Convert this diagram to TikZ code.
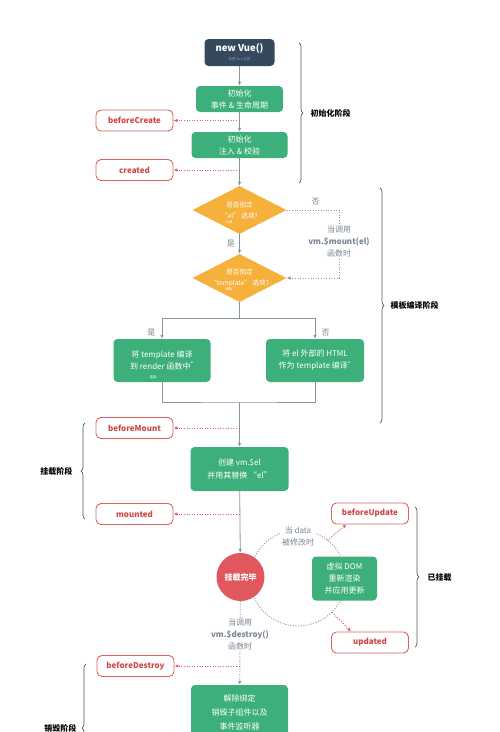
\documentclass[tikz,border=0pt]{standalone}
\usepackage{fontspec}
\setmainfont{Noto Sans CJK SC}
\usetikzlibrary{positioning, calc, shapes.geometric, arrows.meta, decorations.pathreplacing}
\usepackage{xcolor}
\definecolor{vuedark}{HTML}{35495E}
\definecolor{vuegreen}{HTML}{3DAF7B}
\definecolor{askorange}{HTML}{F6B03C}
\definecolor{hookred}{HTML}{DC6262}
\definecolor{hooktext}{HTML}{CF4646}
\definecolor{circred}{HTML}{E0585D}
\definecolor{linegray}{HTML}{8595A8}
\definecolor{notegray}{HTML}{7A8696}
\definecolor{subgray}{HTML}{8C9BAC}
\definecolor{bracegray}{HTML}{555555}
\tikzstyle{Dark} = [fill=vuedark, text=white, rounded corners=4pt, align=center,
font=\bfseries\fontsize{9.5}{10}\selectfont, minimum width=70pt, minimum height=27pt, inner sep=1pt]
\tikzstyle{Green} = [fill=vuegreen, text=white, rounded corners=4pt, align=center,
font=\fontsize{8}{12}\selectfont, minimum height=26pt, inner sep=1pt]
\tikzstyle{Hook} = [draw=hookred, line width=0.9pt, rounded corners=5pt, text=hooktext,
font=\bfseries\fontsize{8}{10}\selectfont, minimum width=77pt, minimum height=21pt]
\tikzstyle{Ask} = [diamond, fill=askorange, inner sep=0pt, minimum width=94pt, minimum height=48pt]
\tikzstyle{AskText} = [text=white, align=center, inner sep=0pt, font=\fontsize{6.6}{11}\selectfont]
\tikzstyle{Line} = [draw=linegray, line width=0.8pt]
\tikzstyle{Arrow} = [Line, -{Latex[length=4pt,width=3.5pt]}]
\tikzstyle{Loop} = [draw=linegray, line width=0.9pt, dash pattern=on 1pt off 1.6pt]
\tikzstyle{HookArrow} = [draw=hookred, line width=1pt, dash pattern=on 1pt off 1.6pt,
-{Latex[length=4pt,width=3.5pt]}]
\tikzstyle{Note} = [text=notegray, align=center, font=\fontsize{8}{12}\selectfont]
\tikzstyle{Tiny} = [inner sep=0pt, font=\fontsize{3.5}{4}\selectfont]
\tikzstyle{Phase} = [text=black, font=\bfseries\fontsize{8}{10}\selectfont]
\tikzstyle{Brace} = [draw=bracegray, line width=0.7pt, decorate, decoration={brace, amplitude=4pt}]

\begin{document}
\begin{tikzpicture}[x=1pt, y=-1pt]
    \useasboundingbox (0,0) rectangle (500,732);
    \clip (0,0) rectangle (500,732);

    \coordinate (17) at (298,578);
    \draw[Loop] (17) circle (48pt);

    \node[Dark] (1) at (239.5,52.5) {new Vue()\\[-1pt]{\mdseries\fontsize{3.5}{4}\selectfont\color{subgray}创建 Vue 实例}};
    \node[Green, minimum width=87pt] (2) at (239.5,99) {初始化\\事件 \& 生命周期};
    \node[Hook] (3) at (134.5,120.5) {beforeCreate};
    \node[Green, minimum width=96pt] (4) at (239.5,145) {初始化\\注入 \& 校验};
    \node[Hook] (5) at (134.5,170) {created};
    \node[Ask, label={[AskText]center:{是否指定\\“el” 选项?}}] (6) at (239.5,210) {};
    \node[Tiny, text=white] (6t) at (229,222.5) {元素};
    \node[Ask, label={[AskText]center:{是否指定\\“template” 选项?}}] (7) at (239.5,278) {};
    \node[Tiny, text=white] (7t) at (229,289.5) {模板};
    \coordinate (9) at (239.5,318);
    \node[Green, minimum width=97pt, minimum height=43pt] (10) at (162,360.5) {将 template 编译\\到 render 函数中\textsuperscript{*}};
    \node[Tiny, text=white] (10t) at (153,377) {渲染};
    \node[Green, minimum width=98pt, minimum height=43pt] (11) at (315,360.5) {将 el 外部的 HTML\\作为 template 编译\textsuperscript{*}};
    \coordinate (12) at (239.5,402);
    \node[Hook] (13) at (134.5,428) {beforeMount};
    \node[Green, minimum width=98pt, minimum height=44pt, font=\fontsize{8}{13}\selectfont] (14) at (239.5,469) {创建 vm.\$el\\并用其替换 “el”};
    \node[Hook] (15) at (134.5,514) {mounted};
    \node[circle, fill=circred, text=white, minimum size=48pt, inner sep=0pt,
    font=\bfseries\fontsize{8}{10}\selectfont] (16) at (240.5,577) {挂载完毕};
    \node[Green, minimum width=65pt, minimum height=44pt] (19) at (344.5,578.5) {虚拟 DOM\\重新渲染\\并应用更新};
    \node[Hook] (20) at (370,513.5) {beforeUpdate};
    \node[Hook] (21) at (370,642.5) {updated};
    \node[Hook] (23) at (135.5,666) {beforeDestroy};
    \node[Green, minimum width=97pt, minimum height=54pt, font=\fontsize{8}{14}\selectfont] (24) at (239.5,712) {解除绑定\\销毁子组件以及\\事件监听器};

    \coordinate (3a) at (239.5,120.5);
    \coordinate (5a) at (239.5,170);
    \coordinate (13a) at (239.5,428);
    \coordinate (15a) at (239.5,514);
    \coordinate (23a) at (239.5,666);
    \coordinate (20a) at ($(17)+(52:48pt)$);
    \coordinate (21a) at ($(17)+(-45:48pt)$);

    \draw[Arrow] (1) -- (2);
    \draw[Arrow] (2) -- (4);
    \draw[Arrow] (4) -- (6);
    \draw[Arrow] (6) -- node[Note, left=1pt] (y1) {是} (7);
    \draw[Loop, -{Latex[length=4pt,width=3.5pt]}] (6.east) -- node[Note, above=1pt, pos=0.55] (n1) {否} ++(52.5,0) |- (7.east);
    \draw[Line] (7) -- (9);
    \draw[Arrow] (9) -| node[Note, pos=0.85, left=3pt] (y2) {是} (10.north);
    \draw[Arrow] (9) -| node[Note, pos=0.85, right=3pt] (n2) {否} (11.north);
    \draw[Line] (10.south) |- (12) -| (11.south);
    \draw[Arrow] (12) -- (14);
    \draw[Arrow] (14) -- (16);
    \draw[Loop, -{Latex[length=4pt,width=3.5pt]}] (16) -- (24);

    \draw[HookArrow] (3a) -- (3.east);
    \draw[HookArrow] (5a) -- (5.east);
    \draw[HookArrow] (13a) -- (13.east);
    \draw[HookArrow] (15a) -- (15.east);
    \draw[HookArrow] (23a) -- (23.east);
    \draw[HookArrow] (20a) -- (20.205);
    \draw[HookArrow] (21a) -- (21.150);

    \node[Note, fill=white, inner sep=1pt] (8) at (339,241.5) {当调用\\\textbf{vm.\$mount(el)}\\函数时};
    \node[Note, fill=white, inner sep=2pt] (18) at (298,536) {当 data\\被修改时};
    \node[Note, fill=white, inner sep=1pt] (22) at (240,634.5) {当调用\\\textbf{vm.\$destroy()}\\函数时};

    \draw[Brace] (299,43) -- (299,183) node[midway, right=8pt, Phase] (p1) {初始化阶段};
    \draw[Brace] (380,188) -- (380,423) node[midway, right=7pt, Phase] (p2) {模板编译阶段};
    \draw[Brace] (85,519) -- (85,423) node[midway, left=9pt, Phase] (p3) {挂载阶段};
    \draw[Brace] (415,507) -- (415,647) node[midway, right=9pt, Phase] (p4) {已挂载};
    \draw[Brace] (86,792) -- (86,664) node[midway, left=6pt, Phase] (p5) {销毁阶段};
\end{tikzpicture}
\end{document}
